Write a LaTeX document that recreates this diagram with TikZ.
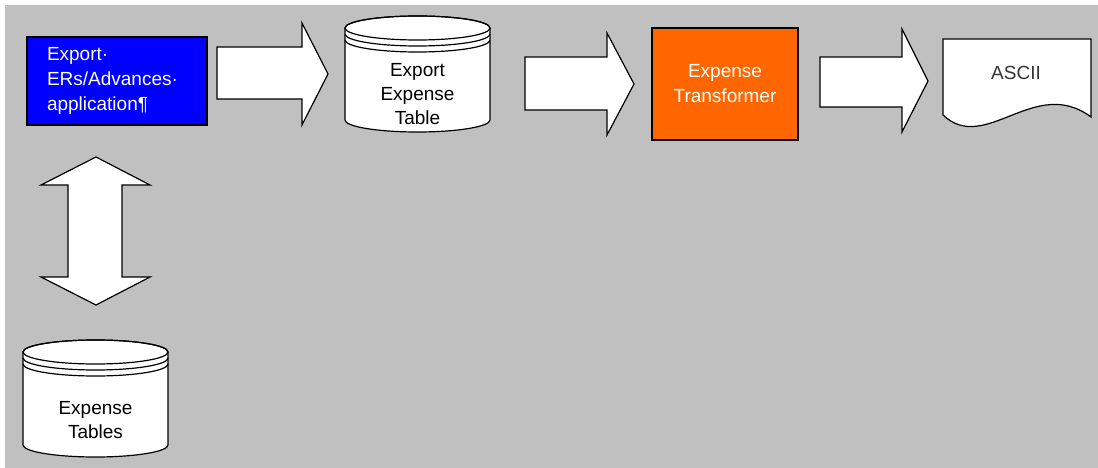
\documentclass[tikz,border=0pt]{standalone}
\usepackage{fontspec}
\setmainfont{Liberation Sans}
\definecolor{bggray}{RGB}{192,192,192}
\definecolor{appblue}{RGB}{0,0,255}
\definecolor{xforange}{RGB}{255,102,0}
\tikzset{
	procbox/.style={draw=black, line width=1.5pt, text=white, font=\fontsize{19}{25}\selectfont},
	blockarrow/.style={draw=black, fill=white, line width=1.2pt, line join=miter},
	dbline/.style={draw=black, line width=1.2pt},
	dblabel/.style={align=center, font=\fontsize{19}{24}\selectfont}
}
\begin{document}
\begin{tikzpicture}[x=1pt, y=-1pt]
					\useasboundingbox (0,0) rectangle (1098,468);
					\fill[white] (0,0) rectangle (1098,468);
					\fill[bggray] (5,5) rectangle (1098,468);
					
					% application and transformer
					\node[procbox, fill=appblue, text width=140, inner xsep=20, minimum height=88, align=left] (app) at (117,81) {Export\textperiodcentered\\ERs/Advances\textperiodcentered\\application\P};
					\node[procbox, fill=xforange, minimum width=146, minimum height=112, align=center] (xform) at (725,84) {Expense\\Transformer};
					
					% export expense table
					\filldraw[dbline, fill=white] (345,28) -- (345,120) arc[start angle=180, end angle=0, x radius=72.5, y radius=12] -- (490,28) arc[start angle=0, end angle=-180, x radius=72.5, y radius=12] -- cycle;
					\draw[dbline] (417.5,28) ellipse [x radius=72.5, y radius=12];
					\draw[dbline] (345,34) arc[start angle=180, end angle=0, x radius=72.5, y radius=12];
					\draw[dbline] (345,40) arc[start angle=180, end angle=0, x radius=72.5, y radius=12];
					\node[dblabel] (eet) at (417.5,94) {Export\\Expense\\Table};
					
					% expense tables
					\filldraw[dbline, fill=white] (23,352) -- (23,445) arc[start angle=180, end angle=0, x radius=72.5, y radius=12] -- (168,352) arc[start angle=0, end angle=-180, x radius=72.5, y radius=12] -- cycle;
					\draw[dbline] (95.5,352) ellipse [x radius=72.5, y radius=12];
					\draw[dbline] (23,358) arc[start angle=180, end angle=0, x radius=72.5, y radius=12];
					\draw[dbline] (23,364) arc[start angle=180, end angle=0, x radius=72.5, y radius=12];
					\node[dblabel] (et) at (95.5,420) {Expense\\Tables};
					
					% ascii document
					\filldraw[dbline, fill=white] (943,39) -- (1091,39) -- (1091,117) .. controls (1035,75) and (985,155) .. (943,115) -- cycle;
					\node[dblabel, text=black!80] (ascii) at (1016,73) {ASCII};
					
					% block arrows
					\draw[blockarrow] (217,47) -- (302,47) -- (302,23) -- (328,74) -- (302,125) -- (302,99) -- (217,99) -- cycle;
					\draw[blockarrow] (525,57) -- (607,57) -- (607,33) -- (634,84) -- (607,135) -- (607,110) -- (525,110) -- cycle;
					\draw[blockarrow] (820,57) -- (902,57) -- (902,29) -- (928,81) -- (902,132) -- (902,107) -- (820,107) -- cycle;
					\draw[blockarrow] (96,157) -- (150,185) -- (122,185) -- (122,277) -- (150,277) -- (96,305) -- (41,277) -- (68,277) -- (68,185) -- (41,185) -- cycle;
\end{tikzpicture}
\end{document}
